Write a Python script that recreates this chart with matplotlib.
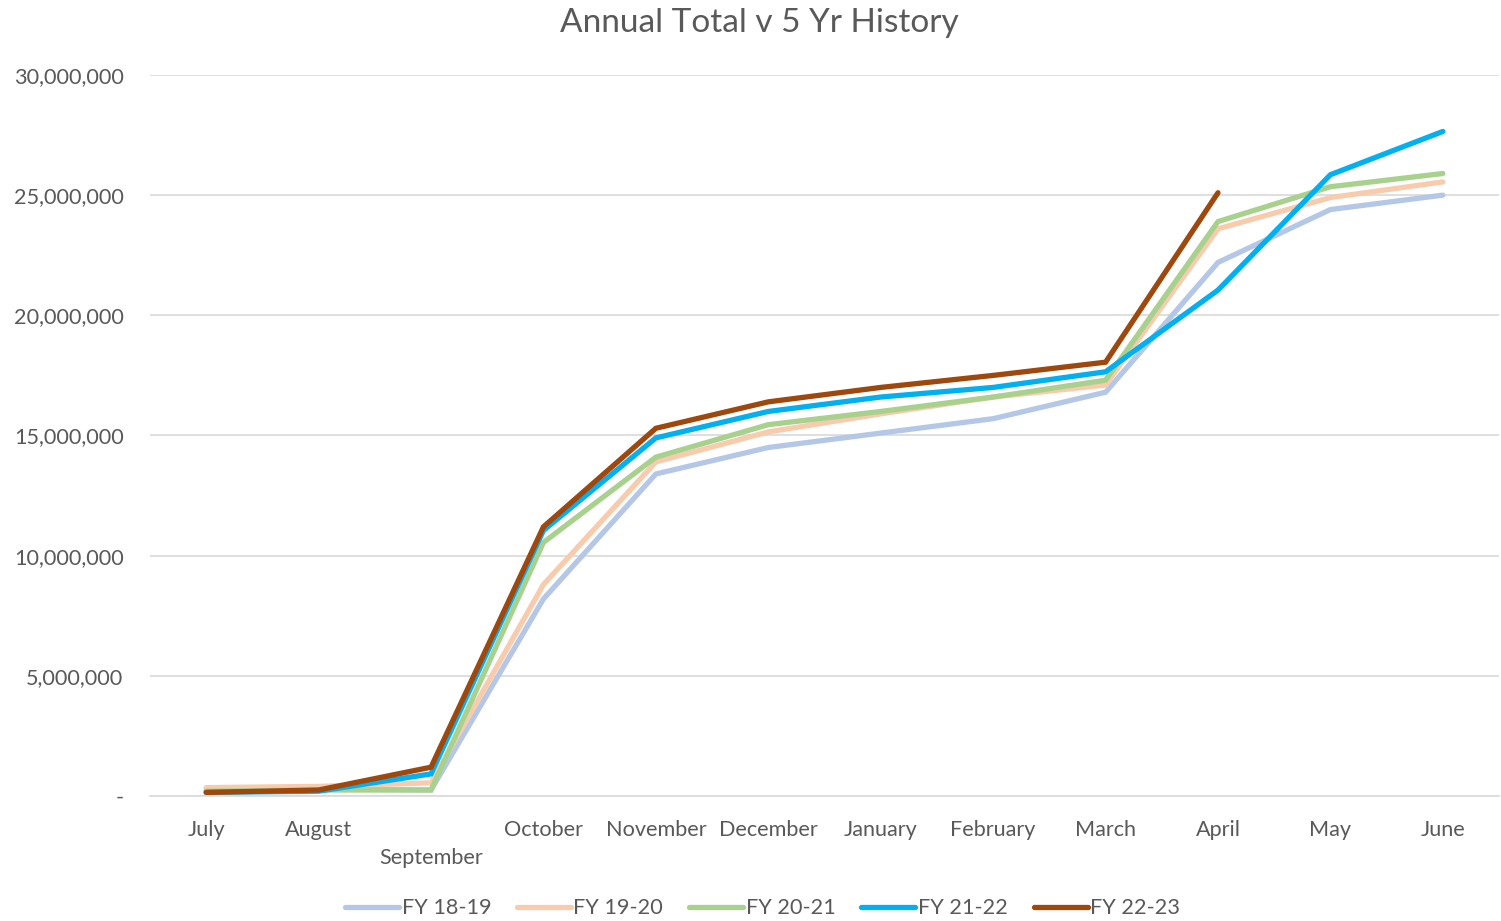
import matplotlib.pyplot as plt
from matplotlib.ticker import FuncFormatter

# Data
months = ["July", "August", "September", "October", "November", "December",
          "January", "February", "March", "April", "May", "June"]

fy_18_19 = [0.30, 0.30, 0.25, 8.2, 13.4, 14.5, 15.1, 15.7, 16.8, 22.2, 24.4, 25.0]
fy_19_20 = [0.35, 0.40, 0.55, 8.8, 13.9, 15.15, 15.9, 16.6, 17.1, 23.6, 24.9, 25.55]
fy_20_21 = [0.20, 0.25, 0.25, 10.55, 14.1, 15.45, 16.0, 16.6, 17.3, 23.9, 25.35, 25.9]
fy_21_22 = [0.15, 0.20, 0.92, 11.05, 14.9, 16.0, 16.6, 17.0, 17.65, 21.05, 25.85, 27.65]
fy_22_23 = [0.15, 0.25, 1.20, 11.2, 15.3, 16.4, 17.0, 17.5, 18.05, 25.1]

series = [
    ("FY 18-19", fy_18_19, "#b4c7e7"),
    ("FY 19-20", fy_19_20, "#f8cbad"),
    ("FY 20-21", fy_20_21, "#a9d18e"),
    ("FY 21-22", fy_21_22, "#00b0f0"),
    ("FY 22-23", fy_22_23, "#9e480e"),
]

plt.rcParams['font.family'] = ['Lato', 'DejaVu Sans']
text_col = "#595959"
fs = 15.6

fig = plt.figure(figsize=(15.01, 9.21), dpi=100)
ax = fig.add_axes([0.0999, 0.1357, 0.8988, 0.7829])

for name, vals, col in series:
    x = list(range(len(vals)))
    ax.plot(x, [v * 1e6 for v in vals], color=col, linewidth=3.8,
            solid_capstyle='round', solid_joinstyle='miter', label=name)

ax.set_xlim(-0.5, 11.5)
ax.set_ylim(0, 30e6)
ax.set_yticks(range(0, 30000001, 5000000))
ax.yaxis.set_major_formatter(FuncFormatter(lambda v, p: "-" if v == 0 else f"{int(v):,}"))

# September sits on a second row, like the staggered Excel labels
labels = [("\n" + m) if m == "September" else m for m in months]
ax.set_xticks(range(12))
ax.set_xticklabels(labels)
for t in ax.get_xticklabels():
    t.set_linespacing(1.55)

ax.grid(axis='y', color="#d9d9d9", linewidth=1.2)
ax.set_axisbelow(True)
for s in ["top", "right", "left"]:
    ax.spines[s].set_visible(False)
ax.spines["bottom"].set_color("#d9d9d9")
ax.spines["bottom"].set_linewidth(1.2)
ax.tick_params(axis='both', length=0, labelsize=fs, colors=text_col)
ax.tick_params(axis='y', pad=19)
ax.tick_params(axis='x', pad=17)

fig.text(0.506, 0.975, "Annual Total v 5 Yr History", fontsize=24,
         color=text_col, ha="center", va="center")

leg = fig.legend(*ax.get_legend_handles_labels(), loc="center",
                 bbox_to_anchor=(0.508, 0.014), ncol=5, frameon=False,
                 fontsize=fs, handlelength=2.5, handletextpad=0.1,
                 columnspacing=1.2, borderaxespad=0)
for t in leg.get_texts():
    t.set_color(text_col)

fig.savefig("out.png", dpi=100)
